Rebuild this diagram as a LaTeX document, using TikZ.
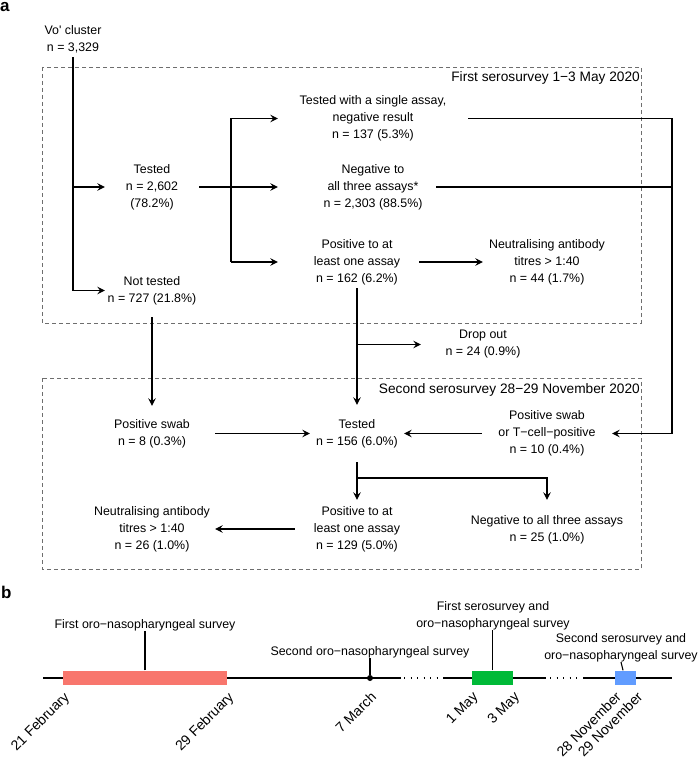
\documentclass[tikz,border=0pt]{standalone}
\usepackage{fontspec}
\setmainfont{Liberation Sans}[Ligatures=TeXOff]
\usetikzlibrary{arrows.meta}
\definecolor{sred}{HTML}{F8766D}
\definecolor{sgreen}{HTML}{00BA38}
\definecolor{sblue}{HTML}{619CFF}
\definecolor{dgray}{HTML}{6E6E6E}
\tikzset{
 lbl/.style={font=\fontsize{12.4}{17}\selectfont, align=center, inner sep=0pt},
 boxtitle/.style={font=\fontsize{13.7}{16}\selectfont, inner sep=0pt, anchor=east},
 conn/.style={line width=1.1pt},
 arr/.style={conn, -{Stealth[length=7.5pt,width=7.5pt,inset=2.8pt]}},
 dbox/.style={draw=dgray, line width=0.9pt, dash pattern=on 4pt off 3pt},
 bar/.style={inner sep=0pt, minimum height=14pt},
 datelbl/.style={font=\fontsize{14}{16}\selectfont, rotate=45, anchor=north east, inner sep=0pt},
 panel/.style={font=\bfseries\fontsize{17}{20}\selectfont, inner sep=0pt}
}
\begin{document}
\begin{tikzpicture}[x=1pt,y=-1pt]
\useasboundingbox (0,0) rectangle (699,757);
\node[panel, anchor=base west] (pa) at (0,11.5) {a};
\node[panel, anchor=base west] (pb) at (1,598) {b};

\draw[dbox] (42,67) rectangle (641,323);
\draw[dbox] (42,378) rectangle (641,569);
\node[boxtitle] (t1) at (640,78) {First serosurvey 1−3 May 2020};
\node[boxtitle] (t2) at (640,390) {Second serosurvey 28−29 November 2020};

\node[lbl] (vo) at (73,39.5) {Vo' cluster\\n = 3,329};
\node[lbl, minimum width=94pt] (tested1) at (152,187) {Tested\\n = 2,602\\(78.2\%)};
\node[lbl, minimum width=94pt, minimum height=53pt] (nottested) at (152,290.5) {Not tested\\n = 727 (21.8\%)};
\node[lbl, minimum width=190pt] (single) at (373,118.5) {Tested with a single assay,\\negative result\\n = 137 (5.3\%)};
\node[lbl, minimum width=190pt] (neg3) at (373,187) {Negative to\\all three assays*\\n = 2,303 (88.5\%)};
\node[lbl, minimum width=124pt, minimum height=52pt] (pos1) at (357,262) {Positive to at\\least one assay\\n = 162 (6.2\%)};
\node[lbl, minimum width=128pt] (neut1) at (547,262) {Neutralising antibody\\titres > 1:40\\n = 44 (1.7\%)};
\node[lbl, minimum width=124pt] (dropout) at (483,344.5) {Drop out\\n = 24 (0.9\%)};
\node[lbl, minimum width=126pt, minimum height=55pt] (posswab) at (152,433.5) {Positive swab\\n = 8 (0.3\%)};
\node[lbl, minimum width=94pt, minimum height=57pt] (tested2) at (357,433.5) {Tested\\n = 156 (6.0\%)};
\node[lbl, minimum width=130pt] (tcell) at (547,433.5) {Positive swab\\or T−cell−positive\\n = 10 (0.4\%)};
\node[lbl, minimum width=124pt, minimum height=58pt] (pos2) at (357,529) {Positive to at\\least one assay\\n = 129 (5.0\%)};
\node[lbl, minimum width=126pt] (neut2) at (152,529) {Neutralising antibody\\titres > 1:40\\n = 26 (1.0\%)};
\node[lbl, minimum height=59pt] (neg2) at (547,529.5) {Negative to all three assays\\n = 25 (1.0\%)};

\coordinate (br1) at (231,187);
\coordinate (rt) at (672,118.5);
\coordinate (bj) at (357,478);

\draw[arr] ([yshift=-4pt]vo.south) |- (nottested.west);
\draw[arr] (vo.south |- tested1.west) -- (tested1.west);
\draw[conn] (tested1.east) -- (br1);
\draw[conn] (br1 |- single.west) -- (br1 |- pos1.west);
\draw[arr] (br1 |- single.west) -- (single.west);
\draw[arr] (br1) -- (neg3.west);
\draw[arr] (br1 |- pos1.west) -- ([xshift=-17pt]pos1.west);
\draw[arr] (pos1.east) -- (neut1.west);
\draw[arr] (pos1.south) -- (tested2.north);
\draw[arr] (pos1.south |- dropout.west) -- (dropout.west);
\draw[arr] (nottested.south) -- (posswab.north);
\draw[arr] (posswab.east) -- (tested2.west);
\draw[arr] (single.east) -- (single.east -| rt) |- (tcell.east);
\draw[conn] ([xshift=-32pt]neg3.east) -- (neg3.east -| rt);
\draw[arr] (tcell.west) -- (tested2.east);
\draw[arr] (tested2.south) -- (pos2.north);
\draw[arr] (bj) -| (neg2.north);
\draw[arr] (pos2.west) -- (neut2.east);

% timeline
\draw[conn] (43,678) -- (401,678);
\draw[conn, dash pattern=on 1.3pt off 5.2pt] (404,678) -- (441,678);
\draw[conn] (443,678) -- (546,678);
\draw[conn, dash pattern=on 1.3pt off 5.2pt] (550,678) -- (582,678);
\draw[conn] (583,678) -- (672,678);

\node[bar, fill=sred, minimum width=164pt] (b1) at (145,677.5) {};
\node[bar, fill=sgreen, minimum width=41pt] (b2) at (492.5,677.5) {};
\node[bar, fill=sblue, minimum width=21pt] (b3) at (625.5,677.5) {};
\node[circle, fill=black, inner sep=0pt, minimum size=6pt] (dot) at (370,678) {};

\node[lbl] (l1) at (145,625) {First oro−nasopharyngeal survey};
\node[lbl] (l2) at (370,652) {Second oro−nasopharyngeal survey};
\node[lbl] (l3) at (493,616) {First serosurvey and\\oro−nasopharyngeal survey};
\node[lbl] (l4) at (621,647.5) {Second serosurvey and\\oro−nasopharyngeal survey};

\draw[conn] (b1.north) -- (b1.north |- l1.south);
\draw[conn] (dot) -- (dot |- l2.south);
\draw[conn] (b2.north) -- (b2.north |- l3.south);
\draw[conn] ([xshift=-2.5pt]b3.north) -- (l4.south);

\node[datelbl] (d1) at ([xshift=0pt,yshift=-6pt]b1.south west) {21 February};
\node[datelbl] (d2) at ([xshift=0pt,yshift=-6pt]b1.south east) {29 February};
\node[datelbl] (d3) at ([xshift=0pt,yshift=-12.5pt]dot.center) {7 March};
\node[datelbl] (d4) at ([xshift=0pt,yshift=-6pt]b2.south west) {1 May};
\node[datelbl] (d5) at ([xshift=0pt,yshift=-6pt]b2.south east) {3 May};
\node[datelbl] (d6) at ([xshift=0pt,yshift=-6pt]b3.south west) {28 November};
\node[datelbl] (d7) at ([xshift=0pt,yshift=-6pt]b3.south east) {29 November};
\end{tikzpicture}
\end{document}
